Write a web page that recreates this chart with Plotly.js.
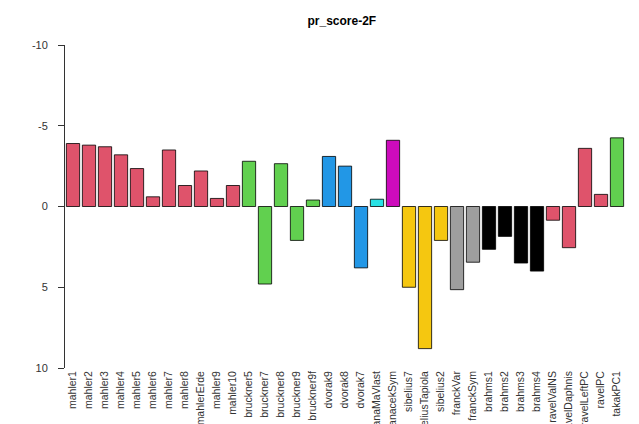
<!DOCTYPE html>
<html><head><meta charset="utf-8">
<script src="https://cdn.plot.ly/plotly-3.0.1.min.js"></script>
<style>body{margin:0;background:#fff}#c{width:639px;height:424px}</style>
</head><body><div id="c"></div>
<script>
const pieces = ['mahler1','mahler2','mahler3','mahler4','mahler5','mahler6','mahler7','mahler8','mahlerErde','mahler9','mahler10',
  'bruckner5','bruckner7','bruckner8','bruckner9','bruckner9f','dvorak9','dvorak8','dvorak7','smetanaMaVlast','janacekSym',
  'sibelius7','sibeliusTapiola','sibelius2','franckVar','franckSym','brahms1','brahms2','brahms3','brahms4',
  'ravelValNS','ravelDaphnis','ravelLeftPC','ravelPC','takakPC1'];
const scores = [-3.9,-3.8,-3.7,-3.2,-2.35,-0.6,-3.5,-1.3,-2.2,-0.5,-1.3,
  -2.8,4.8,-2.65,2.1,-0.4,-3.1,-2.5,3.8,-0.45,-4.1,
  5.0,8.8,2.1,5.15,3.45,2.65,1.85,3.5,4.0,
  0.85,2.55,-3.6,-0.75,-4.25];
const groups = ['m','m','m','m','m','m','m','m','m','m','m','b','b','b','b','b','d','d','d','s','j',
  'si','si','si','f','f','br','br','br','br','r','r','r','r','t'];
const groupColors = {m:'#DF536B',b:'#61D04F',d:'#2297E6',s:'#28E2E5',j:'#CD0BBC',si:'#F5C710',f:'#9E9E9E',br:'#000000',r:'#DF536B',t:'#61D04F'};

Plotly.newPlot('c', [{
  type:'bar', x:pieces, y:scores,
  marker:{color:groups.map(g=>groupColors[g]), line:{color:'#000', width:0.8}}
}], {
  width:639, height:424,
  margin:{l:65, r:14, t:45, b:56},
  bargap:0.17,
  paper_bgcolor:'#fff', plot_bgcolor:'#fff',
  font:{family:'Liberation Sans, Arial', size:11, color:'#222'},
  title:{text:'<b>pr_score-2F</b>', x:0.535, y:0.96, font:{size:12, color:'#000'}},
  xaxis:{tickangle:-90, showgrid:false, showline:false, ticks:'', automargin:false, tickfont:{size:10.5, color:'#333'}},
  yaxis:{range:[10,-10], autorange:false, tickvals:[-10,-5,0,5,10], ticktext:['-10','-5','0','5','10'],
    showgrid:false, zeroline:false, showline:true, linecolor:'#333', ticks:'outside', ticklen:6, tickcolor:'#333',
    tickfont:{size:11, color:'#333'}, ticklabelstandoff:8}
}, {displayModeBar:false});
</script></body></html>
